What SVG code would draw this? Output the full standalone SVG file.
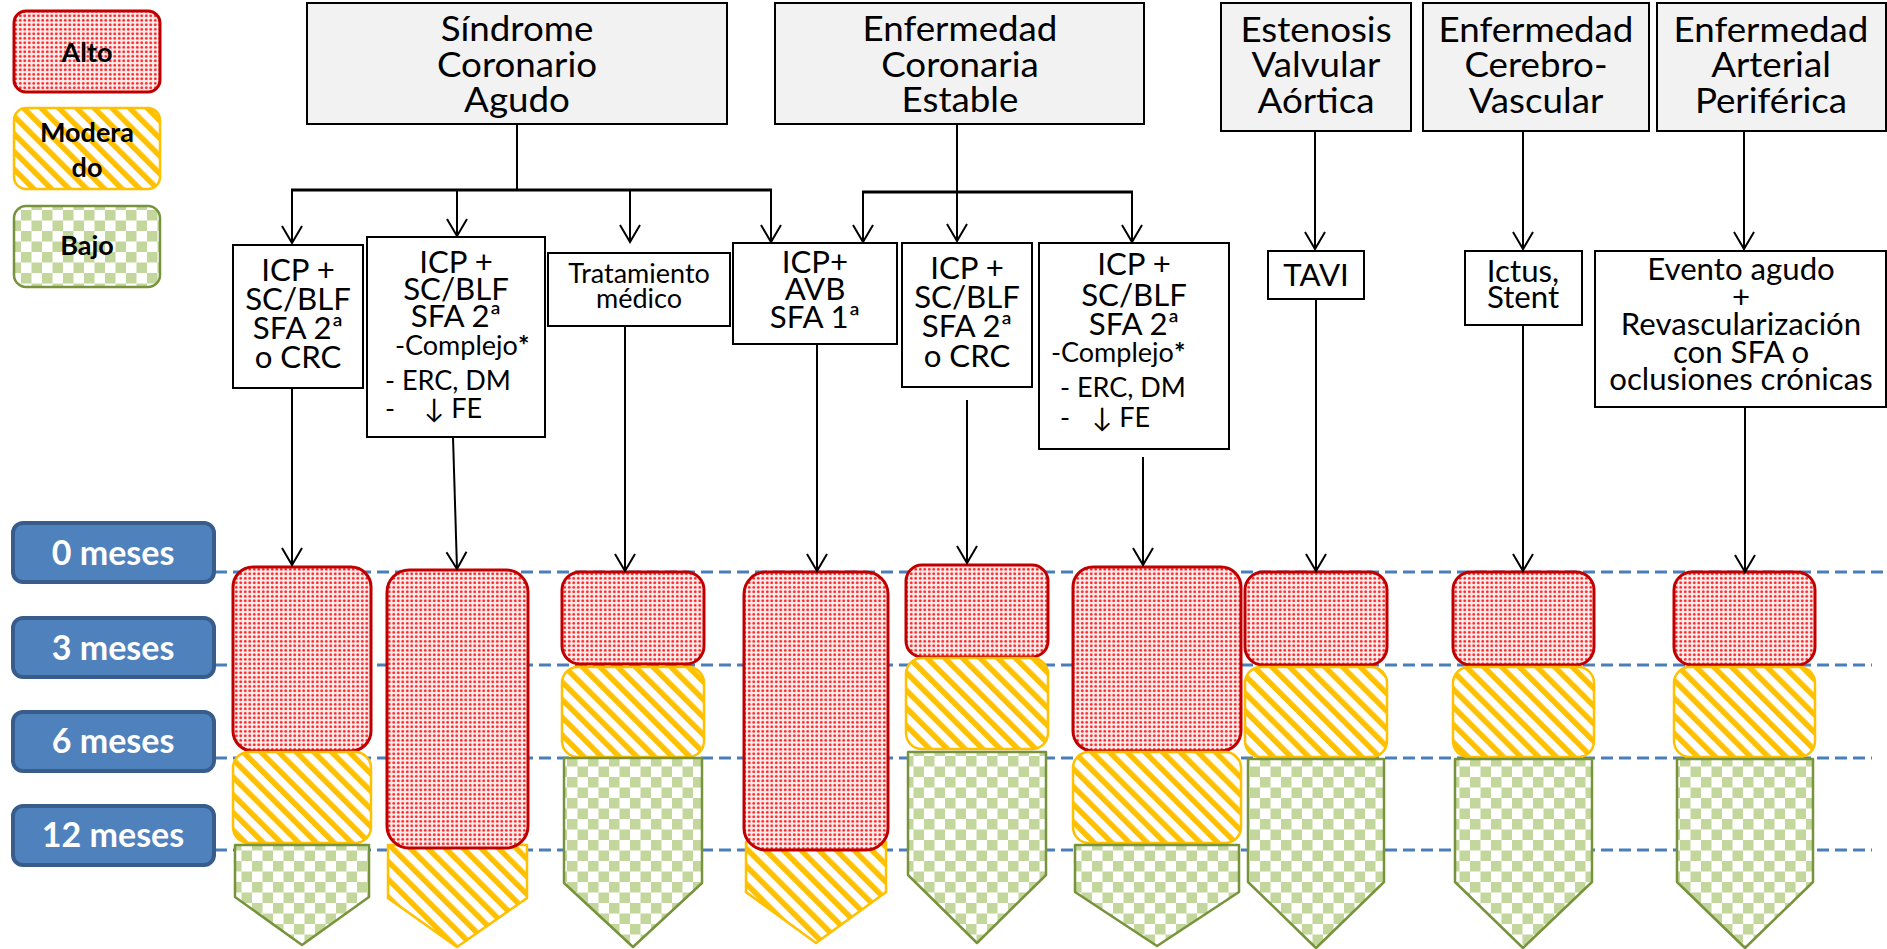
<svg xmlns="http://www.w3.org/2000/svg" width="1887" height="949" viewBox="0 0 1887 949">
  <defs>
    <!-- risk fills -->
    <pattern id="pHigh" width="4.5" height="4.5" patternUnits="userSpaceOnUse">
      <rect width="4.5" height="4.5" fill="#ffeeee"/>
      <circle cx="2.25" cy="2.25" r="1.4" fill="#ff1a1a"/>
    </pattern>
    <pattern id="pMid" width="12.5" height="12.5" patternUnits="userSpaceOnUse" patternTransform="rotate(-45)">
      <rect width="12.5" height="12.5" fill="#ffffff"/>
      <rect width="5.5" height="12.5" fill="#ffc000"/>
    </pattern>
    <pattern id="pLow" width="21" height="21" patternUnits="userSpaceOnUse">
      <rect width="21" height="21" fill="#ffffff"/>
      <rect width="10.5" height="10.5" fill="#c3d69b"/>
      <rect x="10.5" y="10.5" width="10.5" height="10.5" fill="#c3d69b"/>
    </pattern>
    <marker id="arr" markerUnits="userSpaceOnUse" markerWidth="24" markerHeight="24" refX="17" refY="10" orient="auto" overflow="visible">
      <path d="M0,0 L17,10 L0,20" fill="none" stroke="#000" stroke-width="2"/>
    </marker>
    <style>
      text { font-family: Lato, "DejaVu Sans", sans-serif; fill: #000; }
      .hdr { fill: #f2f2f2; stroke: #000; stroke-width: 2; }
      .box { fill: #ffffff; stroke: #000; stroke-width: 2; }
      .ht { font-size: 34px; text-anchor: middle; transform-box: fill-box; transform-origin: center; transform: scaleX(1.08); }
      .bt { font-size: 30px; text-anchor: middle; transform-box: fill-box; transform-origin: center; transform: scaleX(1.04); }
      .lt { font-size: 27px; }
      .st { font-size: 27px; text-anchor: middle; }
      .leg { font-size: 27px; font-weight: bold; text-anchor: middle; }
      .time { fill: #4f81bd; stroke: #385d8a; stroke-width: 4; }
      .tt { font-size: 34px; font-weight: bold; fill: #ffffff; text-anchor: middle; }
      .hi { fill: url(#pHigh); stroke: #c00000; stroke-width: 3; }
      .md { fill: url(#pMid); stroke: #ffc000; stroke-width: 2.5; }
      .lo { fill: url(#pLow); stroke: #77933c; stroke-width: 2.5; stroke-linejoin: round; }
      .grid { stroke: #4a7ebb; stroke-width: 3; stroke-dasharray: 12 6; fill: none; }
      .cn { stroke: #000; stroke-width: 2; fill: none; }
      .bar { stroke: #000; stroke-width: 3; fill: none; }
    </style>
  </defs>

  <rect width="1887" height="949" fill="#ffffff"/>

  <!-- legend -->
  <g id="legend-alto">
    <rect class="hi" x="14" y="11" width="146" height="81" rx="12"/>
    <text class="leg" x="87" y="62">Alto</text>
  </g>
  <g id="legend-moderado">
    <rect class="md" x="14" y="108" width="146" height="81" rx="12"/>
    <text class="leg" x="87" y="142">Modera</text>
    <text class="leg" x="87" y="177">do</text>
  </g>
  <g id="legend-bajo">
    <rect class="lo" x="14" y="206" width="146" height="81" rx="12"/>
    <text class="leg" x="87" y="255">Bajo</text>
  </g>

  <!-- time scale -->
  <g id="time-lines">
    <line class="grid" x1="215" y1="572" x2="1885" y2="572"/>
    <line class="grid" x1="215" y1="665" x2="1872" y2="665"/>
    <line class="grid" x1="215" y1="758" x2="1872" y2="758"/>
    <line class="grid" x1="215" y1="850" x2="1872" y2="850"/>
  </g>
  <g id="t0">
    <rect class="time" x="13" y="523" width="201" height="59" rx="10"/>
    <text class="tt" x="113" y="565">0 meses</text>
  </g>
  <g id="t3">
    <rect class="time" x="13" y="618" width="201" height="59" rx="10"/>
    <text class="tt" x="113" y="660">3 meses</text>
  </g>
  <g id="t6">
    <rect class="time" x="13" y="712" width="201" height="59" rx="10"/>
    <text class="tt" x="113" y="753">6 meses</text>
  </g>
  <g id="t12">
    <rect class="time" x="13" y="806" width="201" height="59" rx="10"/>
    <text class="tt" x="113" y="847">12 meses</text>
  </g>

  <!-- clinical settings -->
  <g id="h-sca">
    <rect class="hdr" x="307" y="3" width="420" height="121"/>
    <text class="ht" x="517" y="41">Síndrome</text>
    <text class="ht" x="517" y="77">Coronario</text>
    <text class="ht" x="517" y="112">Agudo</text>
  </g>
  <g id="h-ece">
    <rect class="hdr" x="775" y="3" width="369" height="121"/>
    <text class="ht" x="960" y="41">Enfermedad</text>
    <text class="ht" x="960" y="77">Coronaria</text>
    <text class="ht" x="960" y="112">Estable</text>
  </g>
  <g id="h-eva">
    <rect class="hdr" x="1221" y="3" width="190" height="128"/>
    <text class="ht" x="1316" y="42">Estenosis</text>
    <text class="ht" x="1316" y="77">Valvular</text>
    <text class="ht" x="1316" y="113">Aórtica</text>
  </g>
  <g id="h-ecv">
    <rect class="hdr" x="1423" y="3" width="226" height="128"/>
    <text class="ht" x="1536" y="42">Enfermedad</text>
    <text class="ht" x="1536" y="77">Cerebro-</text>
    <text class="ht" x="1536" y="113">Vascular</text>
  </g>
  <g id="h-eap">
    <rect class="hdr" x="1657" y="3" width="229" height="128"/>
    <text class="ht" x="1771" y="42">Enfermedad</text>
    <text class="ht" x="1771" y="77">Arterial</text>
    <text class="ht" x="1771" y="113">Periférica</text>
  </g>

  <!-- procedures -->
  <g id="b1">
    <rect class="box" x="233" y="245" width="130" height="143"/>
    <text class="bt" x="298" y="281">ICP +</text>
    <text class="bt" x="298" y="310">SC/BLF</text>
    <text class="bt" x="298" y="339">SFA 2ª</text>
    <text class="bt" x="298" y="368">o CRC</text>
  </g>
  <g id="b2">
    <rect class="box" x="367" y="237" width="178" height="200"/>
    <text class="bt" x="456" y="273">ICP +</text>
    <text class="bt" x="456" y="300">SC/BLF</text>
    <text class="bt" x="456" y="327">SFA 2ª</text>
    <text class="lt" x="395" y="355">-Complejo<tspan font-weight="bold">*</tspan></text>
    <text class="lt" x="385" y="390">- ERC, DM</text>
    <text class="lt" x="385" y="418">-</text>
    <text class="lt" x="424" y="418">↓ FE</text>
  </g>
  <g id="b3">
    <rect class="box" x="548" y="253" width="182" height="73"/>
    <text class="st" x="639" y="283">Tratamiento</text>
    <text class="st" x="639" y="308">médico</text>
  </g>
  <g id="b4">
    <rect class="box" x="733" y="243" width="164" height="101"/>
    <text class="bt" x="815" y="273">ICP+</text>
    <text class="bt" x="815" y="300">AVB</text>
    <text class="bt" x="815" y="328">SFA 1ª</text>
  </g>
  <g id="b5">
    <rect class="box" x="902" y="243" width="130" height="144"/>
    <text class="bt" x="967" y="279">ICP +</text>
    <text class="bt" x="967" y="308">SC/BLF</text>
    <text class="bt" x="967" y="337">SFA 2ª</text>
    <text class="bt" x="967" y="367">o CRC</text>
  </g>
  <g id="b6">
    <rect class="box" x="1039" y="243" width="190" height="206"/>
    <text class="bt" x="1134" y="275">ICP +</text>
    <text class="bt" x="1134" y="306">SC/BLF</text>
    <text class="bt" x="1134" y="335">SFA 2ª</text>
    <text class="lt" x="1051" y="362">-Complejo<tspan font-weight="bold">*</tspan></text>
    <text class="lt" x="1060" y="397">- ERC, DM</text>
    <text class="lt" x="1060" y="427">-</text>
    <text class="lt" x="1092" y="427">↓ FE</text>
  </g>
  <g id="b7">
    <rect class="box" x="1268" y="251" width="96" height="48"/>
    <text class="bt" x="1316" y="286">TAVI</text>
  </g>
  <g id="b8">
    <rect class="box" x="1465" y="251" width="117" height="74"/>
    <text class="bt" x="1523" y="282">Ictus,</text>
    <text class="bt" x="1523" y="308">Stent</text>
  </g>
  <g id="b9">
    <rect class="box" x="1595" y="251" width="291" height="156"/>
    <text class="bt" x="1741" y="280">Evento agudo</text>
    <text class="bt" x="1741" y="308">+</text>
    <text class="bt" x="1741" y="335">Revascularización</text>
    <text class="bt" x="1741" y="363">con SFA o</text>
    <text class="bt" x="1741" y="390">oclusiones crónicas</text>
  </g>

  <!-- risk columns -->
  <g id="c1">
    <rect class="hi" x="233" y="567" width="138" height="184" rx="20"/>
    <rect class="md" x="233" y="752" width="138" height="91" rx="16"/>
    <path class="lo" d="M235,845 H369 V897 L302,945 L235,897 Z"/>
  </g>
  <g id="c2">
    <path class="md" d="M388,845 H527 V898 L457,947 L388,898 Z"/>
    <rect class="hi" x="387" y="570" width="141" height="278" rx="22"/>
  </g>
  <g id="c3">
    <rect class="hi" x="562" y="572" width="142" height="92" rx="18"/>
    <rect class="md" x="562" y="667" width="142" height="90" rx="16"/>
    <path class="lo" d="M564,758 H702 V883 L633,947 L564,883 Z"/>
  </g>
  <g id="c4">
    <path class="md" d="M746,842 H886 V892 L816,943 L746,892 Z"/>
    <rect class="hi" x="744" y="572" width="144" height="278" rx="22"/>
  </g>
  <g id="c5">
    <rect class="hi" x="906" y="565" width="142" height="92" rx="16"/>
    <rect class="md" x="906" y="658" width="142" height="91" rx="16"/>
    <path class="lo" d="M908,752 H1046 V875 L977,943 L908,875 Z"/>
  </g>
  <g id="c6">
    <rect class="hi" x="1073" y="567" width="168" height="184" rx="20"/>
    <rect class="md" x="1073" y="752" width="168" height="91" rx="16"/>
    <path class="lo" d="M1075,845 H1239 V892 L1157,946 L1075,892 Z"/>
  </g>
  <g id="c7">
    <rect class="hi" x="1245" y="572" width="142" height="93" rx="18"/>
    <rect class="md" x="1245" y="667" width="142" height="90" rx="16"/>
    <path class="lo" d="M1248,759 H1384 V882 L1316,948 L1248,882 Z"/>
  </g>
  <g id="c8">
    <rect class="hi" x="1453" y="572" width="141" height="93" rx="18"/>
    <rect class="md" x="1453" y="667" width="141" height="90" rx="16"/>
    <path class="lo" d="M1455,759 H1592 V882 L1523,948 L1455,882 Z"/>
  </g>
  <g id="c9">
    <rect class="hi" x="1674" y="572" width="141" height="93" rx="18"/>
    <rect class="md" x="1674" y="667" width="141" height="90" rx="16"/>
    <path class="lo" d="M1677,759 H1813 V882 L1745,948 L1677,882 Z"/>
  </g>

  <!-- connectors -->
  <g id="connectors">
    <line class="cn" x1="517" y1="124" x2="517" y2="190"/>
    <line class="bar" x1="291" y1="190" x2="772" y2="190"/>
    <line class="cn" x1="292" y1="190" x2="292" y2="243" marker-end="url(#arr)"/>
    <line class="cn" x1="457" y1="190" x2="457" y2="236" marker-end="url(#arr)"/>
    <line class="cn" x1="630" y1="190" x2="630" y2="242" marker-end="url(#arr)"/>
    <line class="cn" x1="771" y1="190" x2="771" y2="242" marker-end="url(#arr)"/>

    <line class="cn" x1="957" y1="124" x2="957" y2="192"/>
    <line class="bar" x1="862" y1="192" x2="1133" y2="192"/>
    <line class="cn" x1="863" y1="192" x2="863" y2="242" marker-end="url(#arr)"/>
    <line class="cn" x1="957" y1="192" x2="957" y2="241" marker-end="url(#arr)"/>
    <line class="cn" x1="1132" y1="192" x2="1132" y2="242" marker-end="url(#arr)"/>

    <line class="cn" x1="1315" y1="131" x2="1315" y2="249" marker-end="url(#arr)"/>
    <line class="cn" x1="1523" y1="131" x2="1523" y2="249" marker-end="url(#arr)"/>
    <line class="cn" x1="1744" y1="131" x2="1744" y2="249" marker-end="url(#arr)"/>

    <line class="cn" x1="292" y1="388" x2="292" y2="565" marker-end="url(#arr)"/>
    <line class="cn" x1="453" y1="437" x2="457" y2="569" marker-end="url(#arr)"/>
    <line class="cn" x1="625" y1="326" x2="625" y2="571" marker-end="url(#arr)"/>
    <line class="cn" x1="817" y1="344" x2="817" y2="571" marker-end="url(#arr)"/>
    <line class="cn" x1="967" y1="400" x2="967" y2="563" marker-end="url(#arr)"/>
    <line class="cn" x1="1143" y1="457" x2="1143" y2="565" marker-end="url(#arr)"/>
    <line class="cn" x1="1316" y1="299" x2="1316" y2="571" marker-end="url(#arr)"/>
    <line class="cn" x1="1523" y1="325" x2="1523" y2="571" marker-end="url(#arr)"/>
    <line class="cn" x1="1745" y1="407" x2="1745" y2="572" marker-end="url(#arr)"/>
  </g>
</svg>
